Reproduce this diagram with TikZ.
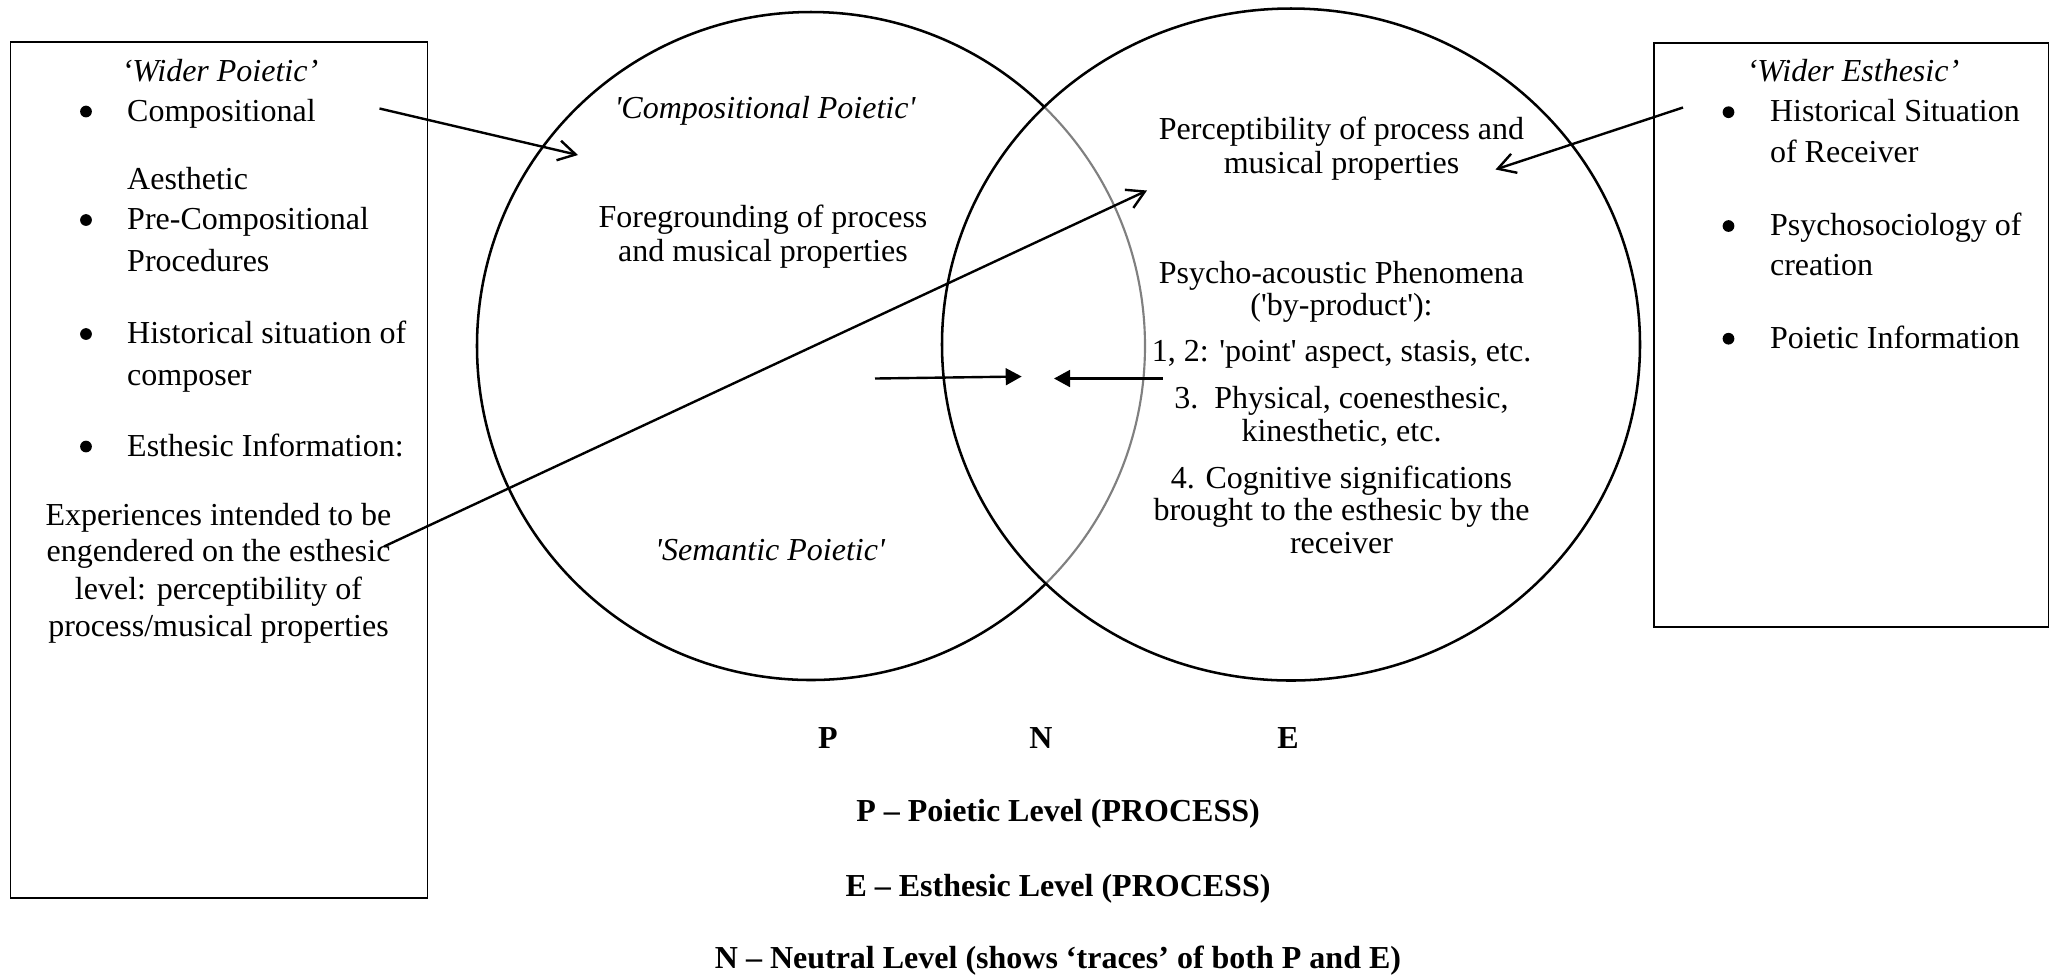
\documentclass[tikz,border=0pt]{standalone}
\usepackage{fontspec}
\setmainfont{Liberation Serif}
\usetikzlibrary{arrows.meta}
\newcommand{\basefont}{\fontsize{12}{13}\selectfont}
\tikzset{
  txt/.style={inner sep=0pt, anchor=base, font=\basefont},
  txtl/.style={inner sep=0pt, anchor=base west, font=\basefont},
  txti/.style={inner sep=0pt, anchor=base, font=\basefont\itshape},
  txtb/.style={inner sep=0pt, anchor=base, font=\basefont\bfseries},
  dot/.style={circle, fill, inner sep=0pt, minimum size=4.4pt},
  frame/.style={draw, line width=0.5pt},
  ring/.style={line width=0.95pt},
  conn/.style={line width=0.9pt, -{Straight Barb[length=6.5pt,width=7.5pt]}},
  meet/.style={line width=0.9pt, -{Triangle[length=6pt,width=6.3pt]}}
}
\begin{document}
\begin{tikzpicture}[x=0.375pt, y=-0.375pt]
\useasboundingbox (0,0) rectangle (2052,974);

% boxes
\coordinate (lbA) at (10.7,42);
\coordinate (lbB) at (427.3,898);
\draw[frame] (lbA) rectangle (lbB);
\coordinate (rbA) at (1654,43);
\coordinate (rbB) at (2048.5,627);
\draw[frame] (rbA) rectangle (rbB);

% circles
\coordinate (pc) at (811,346);
\coordinate (ec) at (1291,344.5);
\draw[ring] (pc) circle[radius=334];
\begin{scope}
  \clip (ec) circle[x radius=349, y radius=336];
  \draw[white, line width=2pt] (pc) circle[radius=334];
  \draw[gray, line width=0.8pt] (pc) circle[radius=334];
\end{scope}
\draw[ring] (ec) circle[x radius=349, y radius=336];

% left box
\node[txti] (wp) at (220,81.5) {‘Wider Poietic’};
\node[dot] (b1) at (86,111.5) {};
\node[txtl] (l1) at (126.7,121) {Compositional};
\node[txtl] (l2) at (126.7,189) {Aesthetic};
\node[dot] (b2) at (86,220) {};
\node[txtl] (l3) at (126.7,229.5) {Pre-Compositional};
\node[txtl] (l4) at (126.7,271) {Procedures};
\node[dot] (b3) at (86,334) {};
\node[txtl] (l5) at (126.7,343.5) {Historical situation of};
\node[txtl] (l6) at (126.7,385) {composer};
\node[dot] (b4) at (86,446.5) {};
\node[txtl] (l7) at (126.7,456) {Esthesic Information:};
\node[txt] (e1) at (218.5,525) {Experiences intended to be};
\node[txt] (e2) at (218.5,561.5) {engendered on the esthesic};
\node[txt] (e3) at (218.5,599) {level: perceptibility of};
\node[txt] (e4) at (218.5,636) {process/musical properties};

% right box
\node[txti] (we) at (1853,81.5) {‘Wider Esthesic’};
\node[dot] (c1) at (1728.5,112.2) {};
\node[txtl] (r1) at (1769.5,121.7) {Historical Situation};
\node[txtl] (r2) at (1769.5,162.4) {of Receiver};
\node[dot] (c2) at (1728.5,226) {};
\node[txtl] (r3) at (1769.5,235.5) {Psychosociology of};
\node[txtl] (r4) at (1769.5,275.5) {creation};
\node[dot] (c3) at (1728.5,338.7) {};
\node[txtl] (r5) at (1769.5,348.2) {Poietic Information};

% poietic circle
\node[txti] (cp) at (765,118) {\textquotesingle Compositional Poietic\textquotesingle};
\node[txt] (fg1) at (763,227.3) {Foregrounding of process};
\node[txt] (fg2) at (763,261.7) {and musical properties};
\node[txti] (sp) at (770,560) {\textquotesingle Semantic Poietic\textquotesingle};

% esthesic circle
\node[txt] (pp1) at (1341.5,139) {Perceptibility of process and};
\node[txt] (pp2) at (1341.5,173) {musical properties};
\node[txt] (ps1) at (1341.5,283.3) {Psycho-acoustic Phenomena};
\node[txt] (ps2) at (1341.5,315) {(\textquotesingle by-product\textquotesingle):};
\node[txt] (ps3) at (1341.5,361.7) {1, 2: \textquotesingle point\textquotesingle\ aspect, stasis, etc.};
\node[txt] (ps4) at (1341.5,408.3) {3.\ \ Physical, coenesthesic,};
\node[txt] (ps5) at (1341.5,441.7) {kinesthetic, etc.};
\node[txt] (ps6) at (1341.5,488.3) {4. Cognitive significations};
\node[txt] (ps7) at (1341.5,520) {brought to the esthesic by the};
\node[txt] (ps8) at (1341.5,553.3) {receiver};

% bottom labels
\node[txtb] (P) at (828,748) {P};
\node[txtb] (N) at (1041,748) {N};
\node[txtb] (E) at (1288,748) {E};
\node[txtb] (lp) at (1058,821.7) {P – Poietic Level (PROCESS)};
\node[txtb] (le) at (1058,896.7) {E – Esthesic Level (PROCESS)};
\node[txtb] (ln) at (1058,968.3) {N – Neutral Level (shows ‘traces’ of both P and E)};

% connectors
\coordinate (a1s) at (379.5,108.5);
\coordinate (a1e) at (578,155);
\coordinate (a2s) at (384,546.5);
\coordinate (a2e) at (1147,190.5);
\coordinate (a3s) at (1683,107.5);
\coordinate (a3e) at (1495.5,169.5);
\coordinate (a4s) at (875,378.5);
\coordinate (a4e) at (1021.7,376.5);
\coordinate (a5s) at (1162.7,378.5);
\coordinate (a5e) at (1054,378.5);
\draw[conn] (a1s) -- (a1e);
\draw[conn] (a2s) -- (a2e);
\draw[conn] (a3s) -- (a3e);
\draw[meet] (a4s) -- (a4e);
\draw[meet] (a5s) -- (a5e);
\end{tikzpicture}
\end{document}
